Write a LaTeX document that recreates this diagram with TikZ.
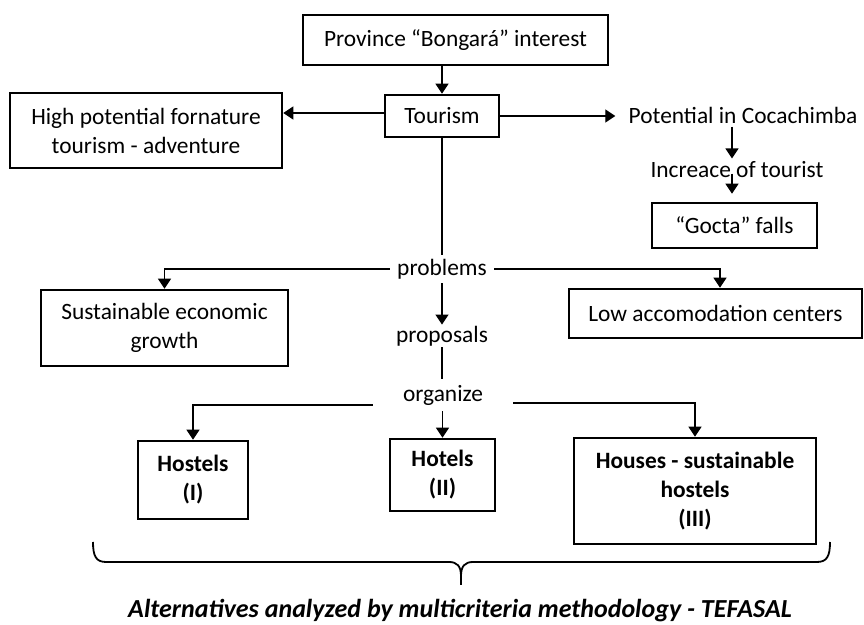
\documentclass[tikz,border=0pt]{standalone}
\usepackage{fontspec}
\setmainfont{Carlito}
\usetikzlibrary{arrows.meta,calc}
\begin{document}
\begin{tikzpicture}[x=0.5pt,y=-0.5pt,
 box/.style={draw,line width=1.3pt,inner sep=0pt,align=center,font=\fontsize{11.7}{14.5}\selectfont},
 bbox/.style={box,font=\fontsize{11.7}{14.5}\selectfont\bfseries},
 lbl/.style={inner sep=1.5pt,align=center,font=\fontsize{11.7}{14.5}\selectfont},
 conn/.style={line width=0.7pt},
 arr/.style={conn,-{Triangle[length=5pt,width=6.5pt]}}]
\useasboundingbox (0,0) rectangle (864,625);

% boxes
\node[box,minimum width=152.5pt,minimum height=25pt] (prov) at (455.5,40) {Province “Bongará” interest};
\node[box,minimum width=57pt,minimum height=21pt] (tour) at (442,116) {Tourism};
\node[box,minimum width=136pt,minimum height=37.5pt] (high) at (146,130.5) {High potential fornature\\tourism - adventure};
\node[box,minimum width=82.5pt,minimum height=22.5pt] (gocta) at (734.5,225.5) {“Gocta” falls};
\node[box,minimum width=123.5pt,minimum height=38pt] (sust) at (164.5,328) {Sustainable economic\\growth};
\node[box,minimum width=146.5pt,minimum height=24.5pt] (low) at (715.5,313.5) {Low accomodation centers};
\node[bbox,minimum width=55pt,minimum height=39pt] (hostels) at (193,480) {Hostels\\(I)};
\node[bbox,minimum width=52.5pt,minimum height=36pt] (hotels) at (442.5,475) {Hotels\\(II)};
\node[bbox,minimum width=121pt,minimum height=53pt] (houses) at (695,491) {Houses - sustainable\\hostels\\(III)};

% plain labels
\node[lbl] (pot) at (743,115) {Potential in Cocachimba};
\node[lbl] (incr) at (737,170) {Increace of tourist};
\node[lbl,inner xsep=3.5pt,inner ysep=2pt] (prob) at (442,269) {problems};
\node[lbl,inner sep=0.5pt] (prop) at (442,336) {proposals};
\node[lbl,inner xsep=15pt,inner ysep=3pt] (org) at (443,395) {organize};
\node[inner sep=0pt,font=\fontsize{13}{16}\selectfont\bfseries\itshape] (alt) at (460,611) {Alternatives analyzed by multicriteria methodology - TEFASAL};

% connectors
\draw[arr] (prov.south -| tour.north) -- (tour.north);
\draw[arr] ([yshift=1.5pt]tour.west) -- ([yshift=1.5pt]tour.west -| high.east);
\draw[arr] (tour.east) -- ([xshift=-5pt]tour.east -| pot.west);
\draw[arr] ([xshift=-5.5pt]pot.south) -- ([xshift=-5.5pt]pot.south |- incr.north);
\draw[arr] ([xshift=-2.5pt,yshift=4pt]incr.south) -- ([xshift=-2.5pt,yshift=4pt]incr.south |- gocta.north);
\draw[conn] (tour.south) -- (tour.south |- prob.north);
\draw[arr] (prob.west) -| (sust.north);
\draw[arr] (prob.east) -| ([xshift=2.25pt]low.north);
\draw[arr] (prob.south) -- (prop.north);
\draw[conn] (prop.south) -- (prop.south |- org.north);
\draw[arr] ([yshift=-5pt]org.west) -| (hostels.north);
\draw[arr] (org.south -| hotels.north) -- (hotels.north);
\draw[arr] ([yshift=-4pt]org.east) -| (houses.north);

% brace
\draw[line width=0.9pt]
 (93,542) .. controls (93,556) and (96,562) .. (106,562) -- (449,562)
 .. controls (457,562) and (461,566) .. (461,576) -- (461,585);
\draw[line width=0.9pt]
 (461,576) .. controls (461,566) and (465,562) .. (473,562) -- (817,562)
 .. controls (827,562) and (830,556) .. (830,542);
\end{tikzpicture}
\end{document}
